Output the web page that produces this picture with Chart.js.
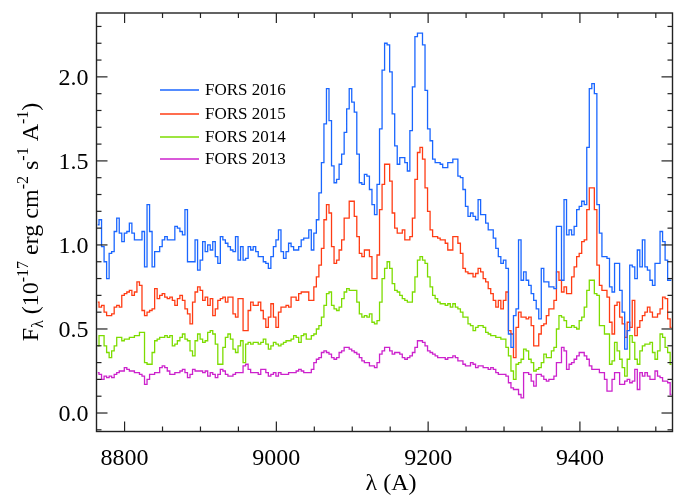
<!DOCTYPE html>
<html>
<head>
<meta charset="utf-8">
<script src="https://cdn.jsdelivr.net/npm/chart.js@4.4.1/dist/chart.umd.min.js"></script>
<style>
  html, body { margin: 0; padding: 0; background: #fff; }
  #wrap { width: 674px; height: 497px; position: relative; }
</style>
</head>
<body>
<div id="wrap"><canvas id="spec_chart"></canvas></div>
<script>
// Spectral bins (Angstrom): first bin starts at lambda_start, all bins have the same width
const lambda_start = 8763;
const bin_width = 3.33;

// Flux per bin, 10^-17 erg cm^-2 s^-1 A^-1
const fors_2016 = [
  1.12, 1.15, 0.99, 0.90, 0.80, 0.95, 0.96, 1.08, 1.16, 1.07,
  1.02, 1.07, 1.08, 1.13, 1.07, 1.03, 1.03, 1.03, 1.08, 0.87,
  1.24, 1.08, 0.87, 0.96, 0.96, 0.99, 1.03, 1.05, 1.03, 1.03,
  1.03, 1.11, 1.10, 1.08, 1.06, 1.21, 0.90, 0.90, 0.90, 1.03,
  0.85, 0.91, 1.02, 0.96, 1.00, 0.97, 1.02, 0.93, 0.89, 1.05,
  1.03, 1.01, 0.99, 0.97, 0.96, 1.05, 0.91, 0.99, 0.91, 0.92,
  0.99, 0.97, 0.99, 0.96, 0.93, 0.93, 0.90, 0.89, 0.86, 0.93,
  0.99, 1.03, 1.09, 0.96, 0.92, 0.96, 1.01, 0.99, 0.97, 0.97,
  0.99, 1.03, 1.04, 1.04, 1.09, 0.97, 1.07, 1.15, 1.31, 1.49,
  1.72, 1.93, 1.74, 1.47, 1.37, 1.39, 1.48, 1.54, 1.67, 1.81,
  1.93, 1.85, 1.79, 1.54, 1.37, 1.36, 1.42, 1.41, 1.33, 1.24,
  1.18, 1.36, 1.69, 2.04, 2.20, 2.19, 2.03, 1.78, 1.59, 1.48,
  1.52, 1.52, 1.49, 1.44, 1.68, 1.94, 2.24, 2.26, 2.26, 2.19,
  1.92, 1.69, 1.62, 1.51, 1.49, 1.49, 1.48, 1.46, 1.46, 1.49,
  1.49, 1.51, 1.51, 1.41, 1.40, 1.33, 1.23, 1.17, 1.19, 1.17,
  1.15, 1.27, 1.18, 1.18, 1.13, 1.09, 1.09, 1.04, 0.98, 0.93,
  0.89, 0.91, 0.86, 0.47, 0.39, 0.58, 0.62, 1.03, 0.79, 0.84,
  0.79, 0.76, 0.71, 0.67, 0.62, 0.56, 0.86, 0.78, 0.78, 0.75,
  0.75, 0.74, 1.11, 1.11, 0.79, 1.27, 1.06, 1.09, 1.06, 1.11,
  1.21, 1.23, 1.26, 1.24, 1.58, 1.93, 1.96, 1.90, 1.24, 1.07,
  0.93, 0.93, 0.92, 0.75, 0.72, 0.89, 0.89, 0.73, 0.60, 0.38,
  0.49, 0.88, 0.87, 0.80, 0.97, 0.87, 1.03, 0.87, 0.85, 0.79,
  0.76, 0.89, 0.89, 1.08, 1.02, 0.91, 0.79, 0.79
];
const fors_2015 = [
  0.66, 0.63, 0.64, 0.60, 0.58, 0.58, 0.59, 0.63, 0.64, 0.63,
  0.70, 0.71, 0.72, 0.73, 0.70, 0.72, 0.78, 0.76, 0.61, 0.58,
  0.60, 0.61, 0.62, 0.74, 0.68, 0.70, 0.71, 0.69, 0.68, 0.69,
  0.67, 0.64, 0.68, 0.70, 0.67, 0.62, 0.59, 0.53, 0.66, 0.72,
  0.75, 0.73, 0.67, 0.69, 0.64, 0.68, 0.58, 0.62, 0.67, 0.68,
  0.69, 0.66, 0.69, 0.69, 0.59, 0.57, 0.68, 0.68, 0.49, 0.49,
  0.61, 0.66, 0.64, 0.64, 0.66, 0.61, 0.56, 0.51, 0.57, 0.65,
  0.57, 0.51, 0.60, 0.63, 0.63, 0.64, 0.63, 0.69, 0.69, 0.67,
  0.71, 0.72, 0.72, 0.72, 0.67, 0.67, 0.75, 0.81, 0.88, 0.98,
  1.15, 1.24, 1.19, 0.99, 0.89, 0.91, 0.97, 1.03, 1.16, 1.16,
  1.26, 1.26, 1.17, 1.05, 0.95, 0.93, 0.97, 0.97, 0.93, 0.80,
  0.80, 0.94, 1.21, 1.36, 1.48, 1.48, 1.38, 1.19, 1.10, 1.07,
  1.07, 1.09, 1.03, 1.03, 1.05, 1.16, 1.39, 1.55, 1.58, 1.51,
  1.34, 1.20, 1.09, 1.05, 1.05, 1.04, 1.03, 1.03, 1.01, 0.97,
  0.97, 1.05, 1.05, 1.01, 0.95, 0.86, 0.84, 0.83, 0.83, 0.81,
  0.83, 0.86, 0.84, 0.80, 0.78, 0.74, 0.71, 0.67, 0.63, 0.67,
  0.62, 0.67, 0.72, 0.49, 0.47, 0.33, 0.51, 0.60, 0.57, 0.57,
  0.56, 0.57, 0.52, 0.40, 0.40, 0.47, 0.52, 0.53, 0.58, 0.62,
  0.62, 0.67, 0.84, 0.79, 0.72, 0.75, 0.71, 0.71, 0.81, 0.87,
  0.93, 0.95, 1.02, 1.03, 1.21, 1.34, 1.34, 1.21, 0.88, 0.76,
  0.73, 0.73, 0.69, 0.54, 0.47, 0.64, 0.66, 0.57, 0.53, 0.45,
  0.54, 0.51, 0.67, 0.46, 0.51, 0.55, 0.58, 0.60, 0.63, 0.60,
  0.57, 0.57, 0.59, 0.62, 0.69, 0.68, 0.56, 0.51
];
const fors_2014 = [
  0.40, 0.46, 0.46, 0.40, 0.36, 0.33, 0.37, 0.40, 0.45, 0.45,
  0.43, 0.44, 0.44, 0.45, 0.45, 0.46, 0.46, 0.48, 0.48, 0.30,
  0.29, 0.29, 0.36, 0.43, 0.44, 0.45, 0.45, 0.46, 0.45, 0.46,
  0.40, 0.41, 0.43, 0.45, 0.47, 0.44, 0.43, 0.37, 0.34, 0.43,
  0.47, 0.44, 0.42, 0.43, 0.48, 0.49, 0.47, 0.41, 0.29, 0.29,
  0.39, 0.45, 0.47, 0.44, 0.38, 0.36, 0.40, 0.43, 0.30, 0.41,
  0.42, 0.41, 0.42, 0.42, 0.41, 0.42, 0.44, 0.41, 0.38, 0.40,
  0.42, 0.41, 0.40, 0.41, 0.42, 0.43, 0.43, 0.44, 0.46, 0.45,
  0.42, 0.46, 0.47, 0.44, 0.44, 0.46, 0.47, 0.50, 0.52, 0.57,
  0.64, 0.71, 0.72, 0.64, 0.62, 0.61, 0.63, 0.68, 0.72, 0.74,
  0.73, 0.73, 0.73, 0.66, 0.59, 0.57, 0.58, 0.57, 0.59, 0.54,
  0.53, 0.55, 0.66, 0.80, 0.86, 0.90, 0.86, 0.77, 0.73, 0.72,
  0.70, 0.68, 0.67, 0.66, 0.66, 0.72, 0.81, 0.91, 0.93, 0.91,
  0.89, 0.81, 0.75, 0.70, 0.68, 0.66, 0.65, 0.65, 0.64, 0.65,
  0.63, 0.65, 0.63, 0.62, 0.60, 0.57, 0.57, 0.53, 0.52, 0.49,
  0.51, 0.52, 0.52, 0.51, 0.48, 0.47, 0.46, 0.46, 0.45, 0.45,
  0.44, 0.44, 0.39, 0.34, 0.25, 0.20, 0.29, 0.30, 0.32, 0.38,
  0.37, 0.32, 0.30, 0.25, 0.26, 0.27, 0.30, 0.35, 0.33, 0.33,
  0.37, 0.39, 0.50, 0.58, 0.57, 0.55, 0.51, 0.51, 0.52, 0.51,
  0.50, 0.55, 0.57, 0.63, 0.73, 0.79, 0.79, 0.71, 0.70, 0.52,
  0.52, 0.47, 0.47, 0.29, 0.31, 0.42, 0.37, 0.32, 0.27, 0.22,
  0.32, 0.46, 0.42, 0.32, 0.29, 0.37, 0.40, 0.41, 0.41, 0.42,
  0.36, 0.32, 0.37, 0.47, 0.45, 0.39, 0.36, 0.29
];
const fors_2013 = [
  0.24, 0.23, 0.20, 0.22, 0.21, 0.22, 0.21, 0.23, 0.24, 0.25,
  0.25, 0.27, 0.26, 0.25, 0.25, 0.24, 0.24, 0.23, 0.22, 0.17,
  0.20, 0.23, 0.23, 0.24, 0.24, 0.27, 0.28, 0.27, 0.25, 0.23,
  0.23, 0.24, 0.24, 0.25, 0.26, 0.24, 0.21, 0.23, 0.26, 0.25,
  0.25, 0.25, 0.24, 0.25, 0.22, 0.24, 0.23, 0.21, 0.23, 0.26,
  0.25, 0.23, 0.22, 0.22, 0.23, 0.24, 0.24, 0.24, 0.28, 0.29,
  0.26, 0.24, 0.24, 0.24, 0.23, 0.26, 0.26, 0.24, 0.22, 0.23,
  0.24, 0.22, 0.24, 0.23, 0.23, 0.23, 0.24, 0.24, 0.24, 0.25,
  0.26, 0.25, 0.24, 0.24, 0.24, 0.26, 0.30, 0.32, 0.33, 0.36,
  0.37, 0.36, 0.35, 0.33, 0.32, 0.33, 0.36, 0.37, 0.39, 0.39,
  0.38, 0.37, 0.36, 0.35, 0.33, 0.31, 0.30, 0.30, 0.28, 0.28,
  0.27, 0.30, 0.35, 0.37, 0.39, 0.39, 0.37, 0.35, 0.36, 0.36,
  0.35, 0.33, 0.32, 0.33, 0.34, 0.36, 0.39, 0.43, 0.43, 0.42,
  0.40, 0.37, 0.36, 0.35, 0.34, 0.33, 0.33, 0.33, 0.32, 0.33,
  0.33, 0.34, 0.33, 0.31, 0.31, 0.29, 0.28, 0.28, 0.30, 0.29,
  0.27, 0.28, 0.28, 0.27, 0.27, 0.26, 0.27, 0.26, 0.24, 0.23,
  0.23, 0.23, 0.22, 0.18, 0.15, 0.14, 0.14, 0.11, 0.09, 0.24,
  0.24, 0.23, 0.19, 0.16, 0.23, 0.23, 0.22, 0.20, 0.19, 0.20,
  0.20, 0.22, 0.30, 0.30, 0.39, 0.37, 0.26, 0.29, 0.30, 0.32,
  0.34, 0.36, 0.36, 0.34, 0.32, 0.28, 0.26, 0.26, 0.26, 0.24,
  0.24, 0.20, 0.13, 0.13, 0.20, 0.24, 0.24, 0.17, 0.17, 0.19,
  0.20, 0.18, 0.19, 0.26, 0.14, 0.24, 0.22, 0.24, 0.22, 0.20,
  0.20, 0.25, 0.22, 0.21, 0.19, 0.19, 0.18, 0.11
];

const series_names = ['FORS 2016', 'FORS 2015', 'FORS 2014', 'FORS 2013'];
const series_colors = ['#1a66ff', '#ff3c14', '#7ddc00', '#cc22cc'];

// Axis ticks
const x_major = [8800, 9000, 9200, 9400];
const x_minor = [8850, 8900, 8950, 9050, 9100, 9150, 9250, 9300, 9350, 9450, 9500];
const y_major = [0.0, 0.5, 1.0, 1.5, 2.0];
const y_minor = [-0.1, 0.1, 0.2, 0.3, 0.4, 0.6, 0.7, 0.8, 0.9, 1.1, 1.2, 1.3, 1.4, 1.6, 1.7, 1.8, 1.9, 2.1, 2.2, 2.3];

const serif = '"Liberation Serif", "Times New Roman", serif';

// Points at bin centres, drawn as a histogram with stepped: 'middle'
function to_points(values) {
    return values.map(function(v, i) {
        return { x: lambda_start + bin_width * (i + 0.5), y: v };
    });
}

const all_series = [fors_2016, fors_2015, fors_2014, fors_2013];
const datasets = all_series.map(function(values, k) {
    return {
        label: series_names[k],
        data: to_points(values),
        borderColor: series_colors[k],
        borderWidth: 1.3,
        pointRadius: 0,
        stepped: 'middle',
        fill: false
    };
});

// Inward ticks on all four sides, box, tick labels, axis titles and legend
const frame_plugin = {
    id: 'frame_plugin',
    afterDraw(chart) {
        const ctx = chart.ctx;
        const a = chart.chartArea;
        const xs = chart.scales.x;
        const ys = chart.scales.y;

        ctx.save();
        ctx.strokeStyle = '#222';
        ctx.lineWidth = 1.4;
        ctx.strokeRect(a.left, a.top, a.right - a.left, a.bottom - a.top);

        function seg(x1, y1, x2, y2) {
            ctx.beginPath();
            ctx.moveTo(x1, y1);
            ctx.lineTo(x2, y2);
            ctx.stroke();
        }
        function x_tick(v, len) {
            const p = xs.getPixelForValue(v);
            seg(p, a.bottom, p, a.bottom - len);
            seg(p, a.top, p, a.top + len);
        }
        function y_tick(v, len) {
            const p = ys.getPixelForValue(v);
            seg(a.left, p, a.left + len, p);
            seg(a.right, p, a.right - len, p);
        }
        ctx.lineWidth = 1.2;
        x_major.forEach(function(v) { x_tick(v, 10); });
        x_minor.forEach(function(v) { x_tick(v, 5); });
        y_major.forEach(function(v) { y_tick(v, 11); });
        y_minor.forEach(function(v) { y_tick(v, 5); });

        // tick labels
        ctx.fillStyle = '#000';
        ctx.font = '24px ' + serif;
        ctx.textBaseline = 'alphabetic';
        ctx.textAlign = 'center';
        x_major.forEach(function(v) {
            ctx.fillText(String(v), xs.getPixelForValue(v), a.bottom + 33);
        });
        ctx.textAlign = 'right';
        y_major.forEach(function(v) {
            ctx.fillText(v.toFixed(1), a.left - 8, ys.getPixelForValue(v) + 8);
        });

        // x title
        ctx.textAlign = 'center';
        ctx.fillText('λ (A)', 391, 490);

        // y title with sub/superscripts
        const main = '24px ' + serif;
        const small = '16px ' + serif;
        const parts = [
            ['F', main, 0], ['λ', small, 5], [' (10', main, 0], ['-17', small, -10],
            [' erg cm', main, 0], ['-2', small, -10], [' s', main, 0], ['-1', small, -10],
            [' A', main, 0], ['-1', small, -10], [')', main, 0]
        ];
        let total = 0;
        parts.forEach(function(p) { ctx.font = p[1]; total += ctx.measureText(p[0]).width; });
        ctx.translate(38, 222);
        ctx.rotate(-Math.PI / 2);
        ctx.textAlign = 'left';
        let cx = -total / 2;
        parts.forEach(function(p) {
            ctx.font = p[1];
            ctx.fillText(p[0], cx, p[2]);
            cx += ctx.measureText(p[0]).width;
        });
        ctx.rotate(Math.PI / 2);
        ctx.translate(-38, -222);

        // legend
        const leg_y = [90, 114, 137, 159];
        ctx.font = '17px ' + serif;
        ctx.textBaseline = 'middle';
        series_names.forEach(function(name, k) {
            ctx.strokeStyle = series_colors[k];
            ctx.lineWidth = 1.3;
            seg(160, leg_y[k], 199, leg_y[k]);
            ctx.fillStyle = '#000';
            ctx.fillText(name, 205, leg_y[k] + 1);
        });
        ctx.restore();
    }
};

var ctx = document.getElementById('spec_chart');
var spec_chart = new Chart(ctx, {
    type: 'line',
    data: { datasets: datasets },
    options: {
        responsive: true,
        maintainAspectRatio: false,
        animation: false,
        layout: { padding: { top: 13, right: 1.5, left: 0, bottom: 0 } },
        plugins: { legend: { display: false }, tooltip: { enabled: false } },
        scales: {
            x: {
                type: 'linear',
                min: 8763,
                max: 9522,
                grid: { display: false, drawTicks: false },
                border: { display: false },
                ticks: { display: false },
                afterFit: function(s) { s.height = 65.5; s.paddingLeft = 0; s.paddingRight = 0; }
            },
            y: {
                min: -0.11,
                max: 2.38,
                grid: { display: false, drawTicks: false },
                border: { display: false },
                ticks: { display: false },
                afterFit: function(s) { s.width = 96.5; s.paddingTop = 0; s.paddingBottom = 0; }
            }
        }
    },
    plugins: [frame_plugin]
});
</script>
</body>
</html>
